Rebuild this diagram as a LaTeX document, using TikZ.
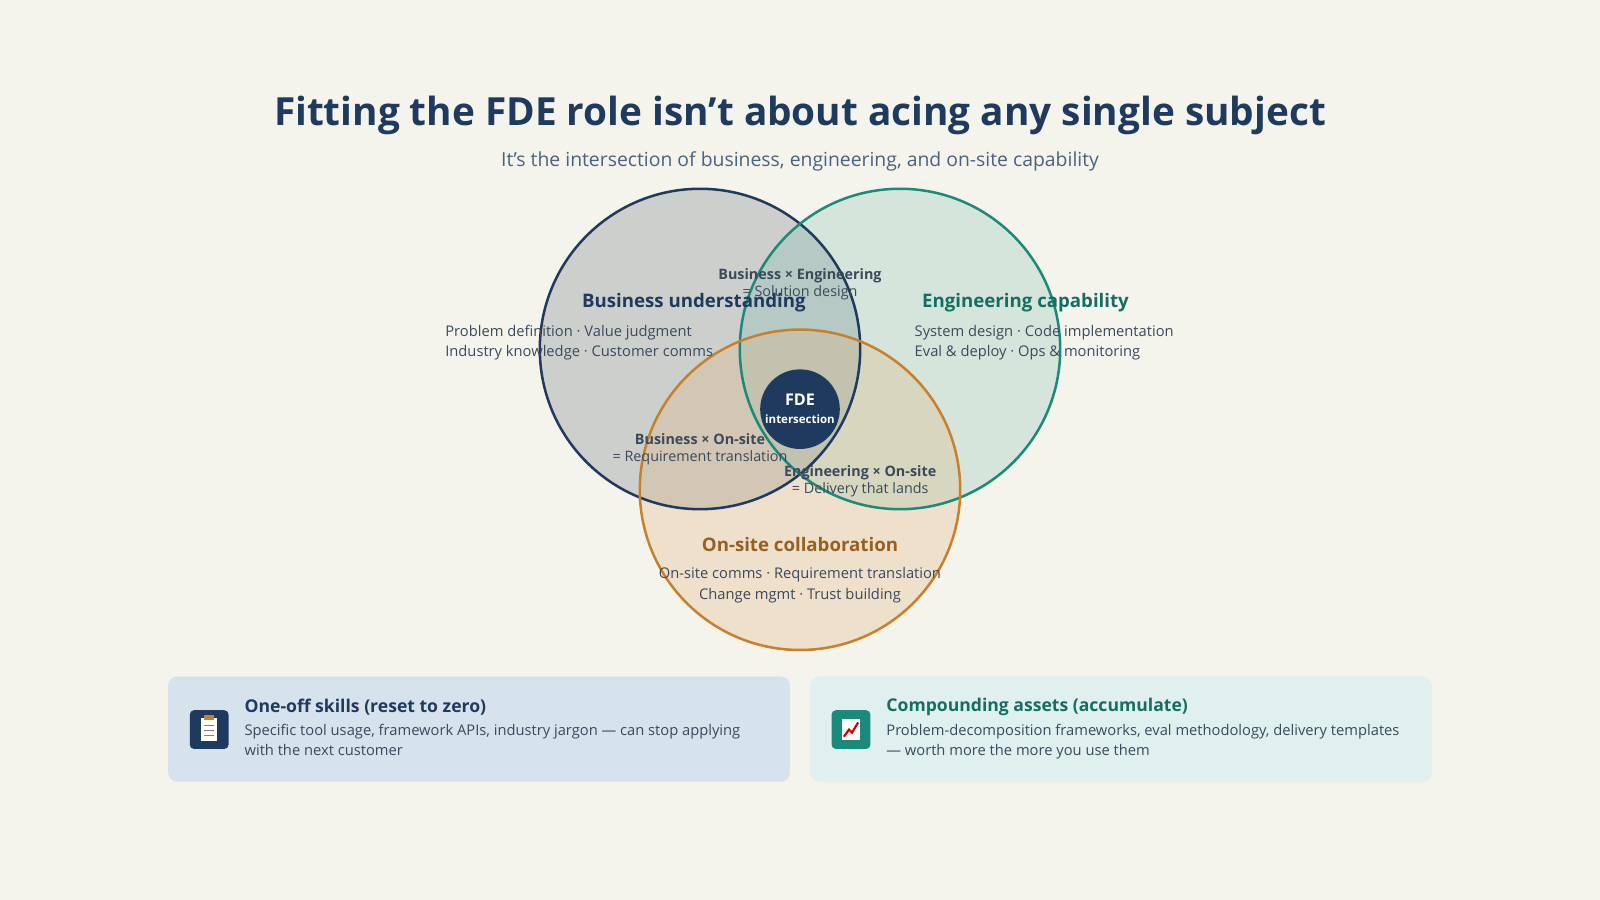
\documentclass[tikz,border=0pt]{standalone}
\usepackage{fontspec}
\setmainfont{Open Sans}
\usetikzlibrary{positioning}
\definecolor{bgc}{HTML}{F5F4EC}
\definecolor{navy}{HTML}{1E3A5F}
\definecolor{tealc}{HTML}{1A8A7A}
\definecolor{orangec}{HTML}{C8812A}
\definecolor{txtc}{HTML}{3A4A5C}
\definecolor{subc}{HTML}{4A6280}
\definecolor{cardl}{HTML}{D7E3EC}
\definecolor{cardr}{HTML}{DFF0EE}
\newcommand{\fs}[2]{\fontsize{#1}{#2}\selectfont}
\begin{document}
\begin{tikzpicture}
    [
      x=0.01cm, y=-0.01cm,
      head/.style={font=\fs{5.2pt}{6pt}\bfseries},
      body/.style={font=\fs{4.1pt}{5.7pt}, text=txtc, align=left},
      pair/.style={font=\fs{4pt}{4.7pt}, text=txtc, align=center},
      card/.style={rounded corners=2.5pt, minimum width=6.09cm, minimum height=1.03cm, inner sep=0pt},
      icon/.style={rounded corners=1.2pt, minimum width=0.38cm, minimum height=0.38cm, inner sep=0pt}
    ]
    \fill[bgc] (0,0) rectangle (1568,882);
    \useasboundingbox (0,0) rectangle (1568,882);

    % title
    \node (title) [font=\fs{10.8pt}{12pt}\bfseries, text=navy] at (784,113) {Fitting the FDE role isn't about acing any single subject};
    \node (sub) [font=\fs{5.4pt}{6pt}, text=subc] at (784,158) {It's the intersection of business, engineering, and on-site capability};

    % circles
    \fill[navy!40!gray, opacity=0.25] (686,342) circle (157);
    \fill[tealc!60!white, opacity=0.25] (882,342) circle (157);
    \fill[orangec!60!white, opacity=0.3] (784,480) circle (157);
    \draw[navy, line width=0.7pt] (686,342) circle (157);
    \draw[tealc, line width=0.7pt] (882,342) circle (157);
    \draw[orangec, line width=0.7pt] (784,480) circle (157);
    \node (fde) [circle, fill=navy, minimum size=0.78cm, inner sep=0pt] at (784,401) {};
    \node (fdet) [font=\fs{4.5pt}{5pt}\bfseries, text=white, inner sep=0pt] at (784,392) {FDE};
    \node (fdes) [font=\fs{3.2pt}{4pt}\bfseries, text=white, inner sep=0pt] at (784,411) {intersection};

    % circle labels
    \node (bus) [head, text=navy] at (680,297) {Business understanding};
    \node (busb) [body, anchor=north west] at (424,306) {Problem definition · Value judgment\\Industry knowledge · Customer comms};
    \node (eng) [head, text=tealc!80!black] at (1005,297) {Engineering capability};
    \node (engb) [body, anchor=north west] at (884,306) {System design · Code implementation\\Eval \& deploy · Ops \& monitoring};
    \node (ons) [head, text=orangec!75!black] at (784,534) {On-site collaboration};
    \node (onsb) [body, align=center, anchor=north] at (784,544) {On-site comms · Requirement translation\\Change mgmt · Trust building};

    % pairs
    \node (be) [pair] at (784,279) {\textbf{Business × Engineering}\\= Solution design};
    \node (bo) [pair] at (686,440) {\textbf{Business × On-site}\\= Requirement translation};
    \node (eo) [pair] at (843,472) {\textbf{Engineering × On-site}\\= Delivery that lands};

    % cards
    \node (cl) [card, fill=cardl] at (469.5,714.5) {};
    \node (cr) [card, fill=cardr] at (1098.5,714.5) {};
    \node (il) [icon, fill=navy] at (205,715) {};
    \fill[white] (197,704) rectangle (213,726);
    \fill[orangec] (200,701) rectangle (210,706);
    \foreach \yy in {711,716,721} \draw[gray, line width=0.4pt] (200,\yy) -- (210,\yy);
    \node (ir) [icon, fill=tealc] at (834,715) {};
    \fill[white] (825,705) rectangle (843,725);
    \draw[red!80!black, line width=0.6pt] (827,722) -- (832,715) -- (835,718) -- (841,708);
    \node (clt) [font=\fs{4.9pt}{6pt}\bfseries, text=navy, anchor=west, inner sep=0pt] at (239,693) {One-off skills (reset to zero)};
    \node (clb) [body, anchor=north west, inner sep=0pt] at (239,709) {Specific tool usage, framework APIs, industry jargon — can stop applying\\with the next customer};
    \node (crt) [font=\fs{4.9pt}{6pt}\bfseries, text=tealc!80!black, anchor=west, inner sep=0pt] at (868,693) {Compounding assets (accumulate)};
    \node (crb) [body, anchor=north west, inner sep=0pt] at (868,709) {Problem-decomposition frameworks, eval methodology, delivery templates\\— worth more the more you use them};
\end{tikzpicture}
\end{document}
